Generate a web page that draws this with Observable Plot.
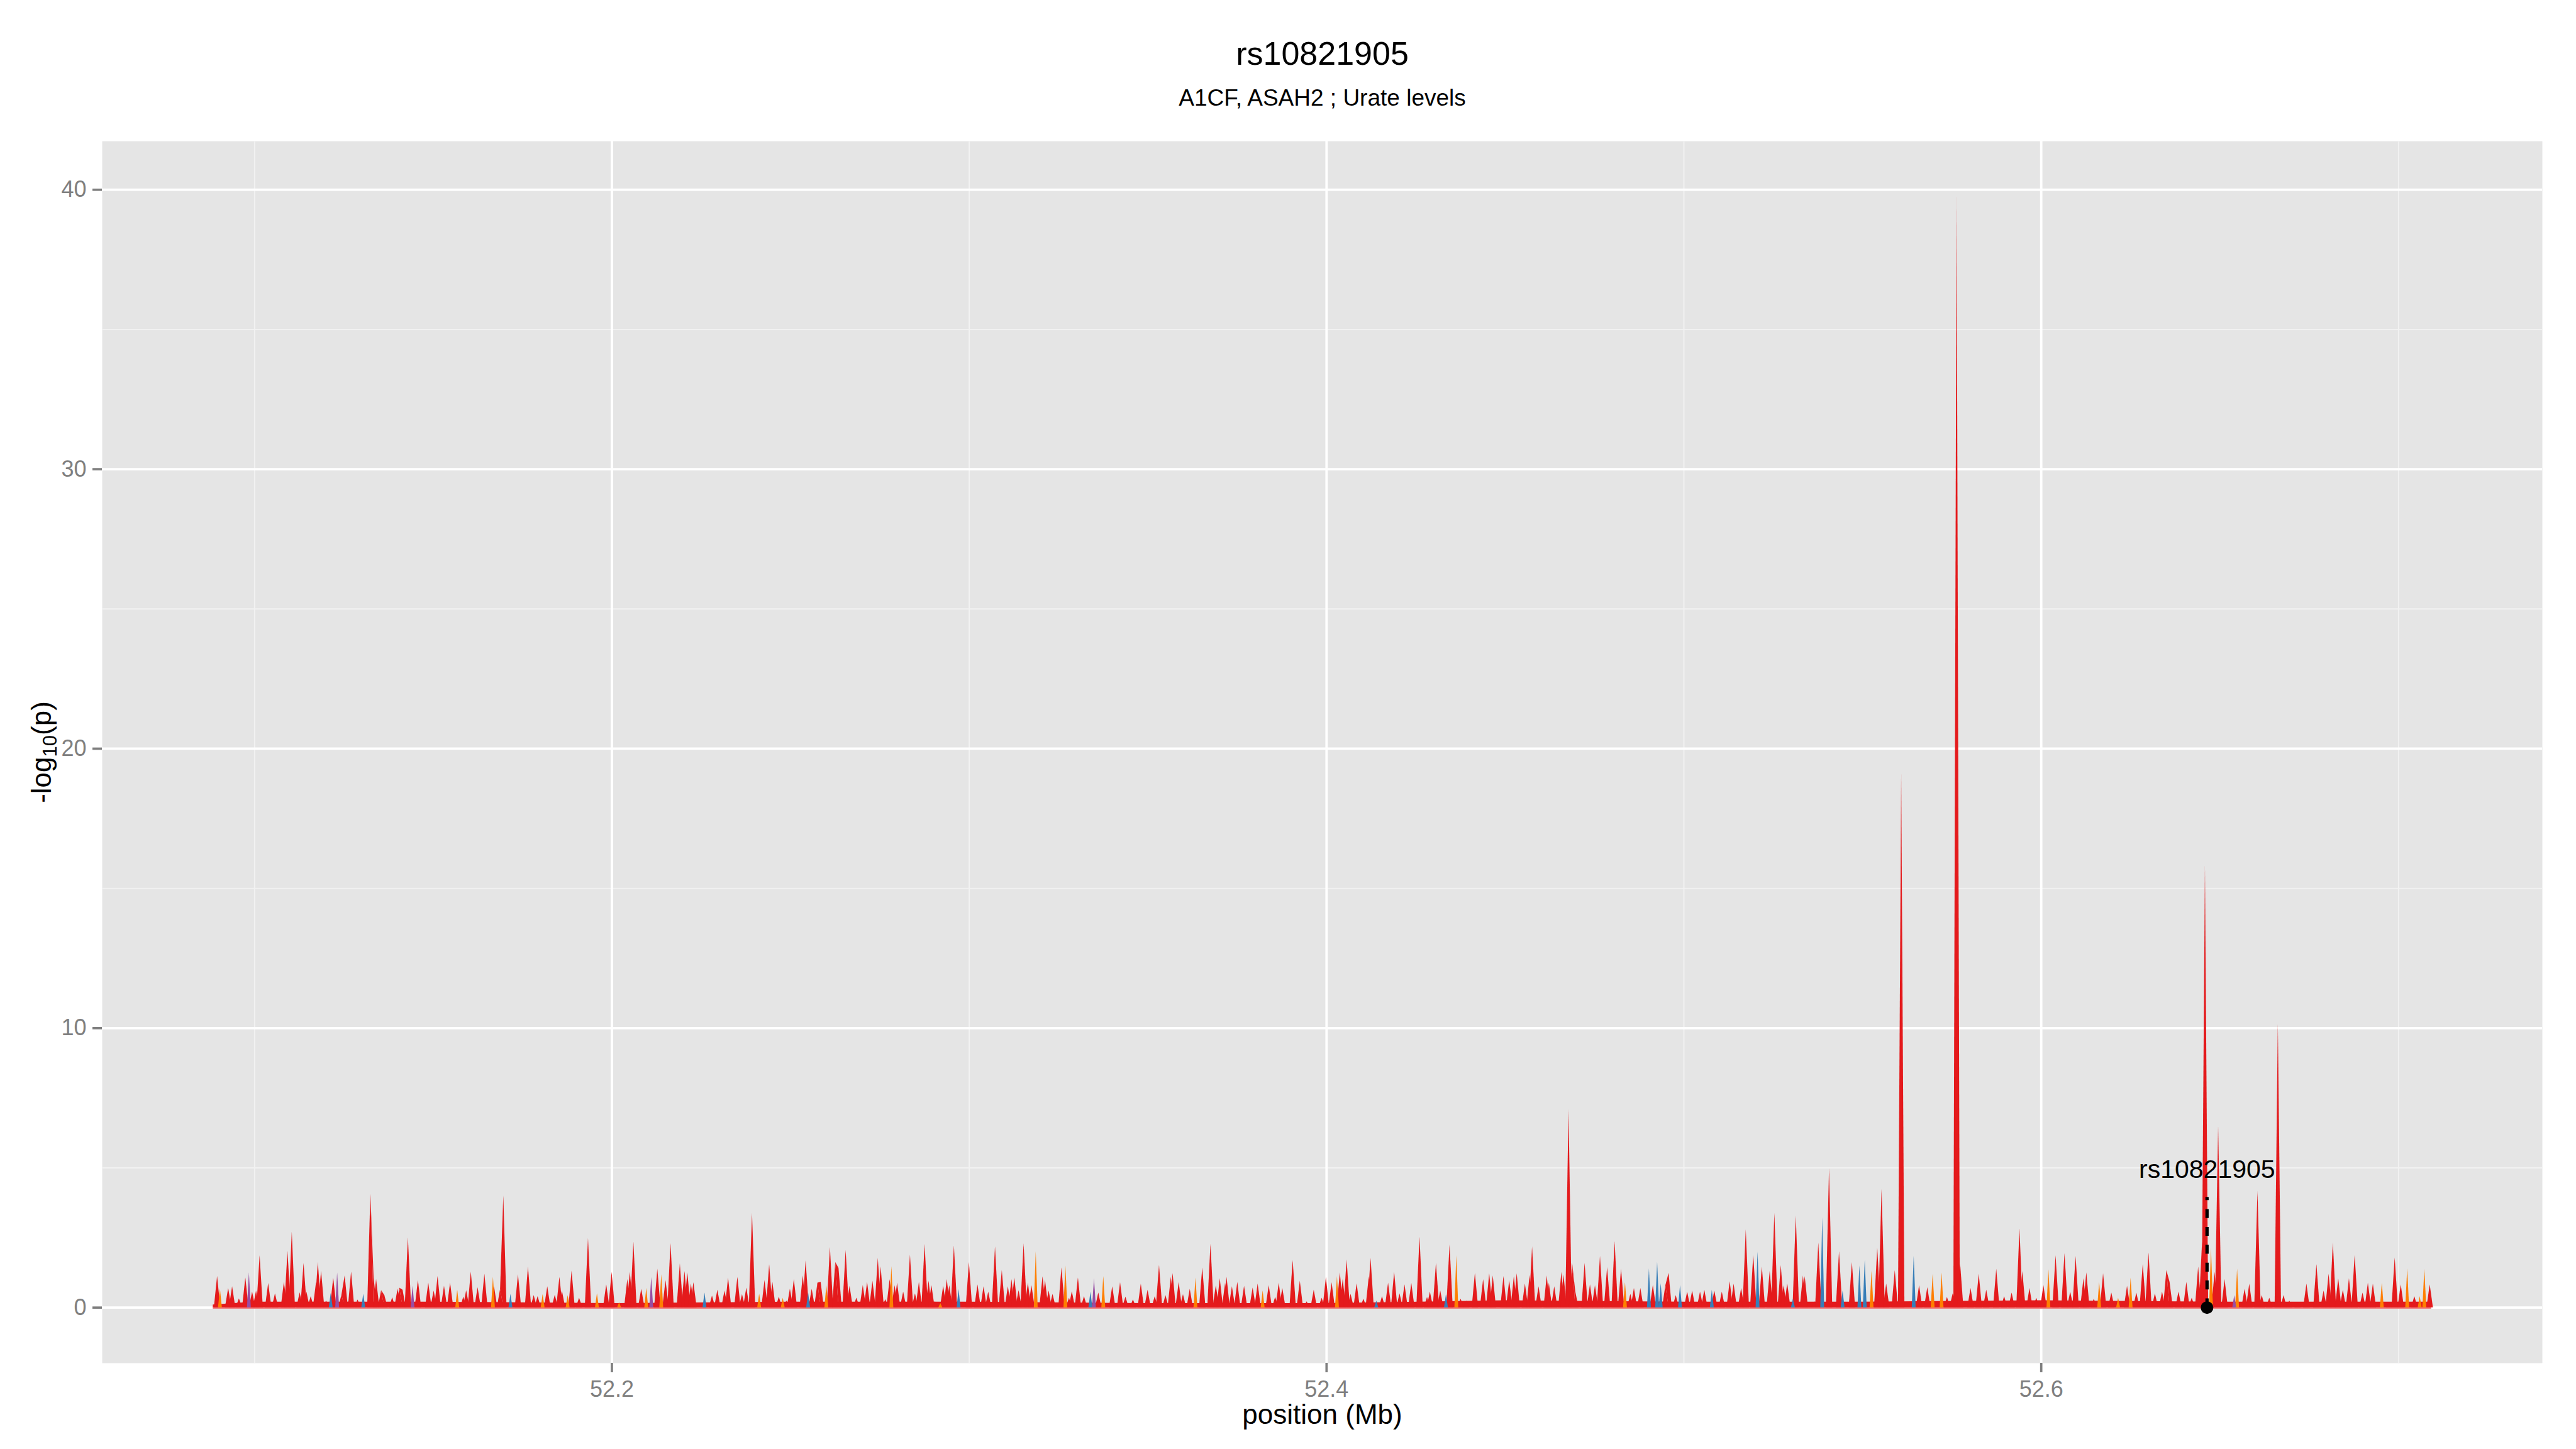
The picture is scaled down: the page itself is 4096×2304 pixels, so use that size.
<!DOCTYPE html>
<html><head><meta charset="utf-8">
<script src="https://cdn.jsdelivr.net/npm/d3@7"></script>
<script src="https://cdn.jsdelivr.net/npm/@observablehq/plot@0.6"></script>
<style>html,body{margin:0;padding:0;background:#fff;} svg{display:block;}</style>
</head><body>
<script>
// ---- text ----
const titleText = "rs10821905";
const subtitleText = "A1CF, ASAH2 ; Urate levels";
const xLabel = "position (Mb)";
// ---- ticks ----
const xTicks = [52.2, 52.4, 52.6];
const xMinorTicks = [52.1, 52.3, 52.5, 52.7];
const yTicks = [0, 10, 20, 30, 40];
const yMinorTicks = [5, 15, 25, 35];
// ---- highlighted SNP ----
const snp = {name: "rs10821905", pos: 52.6464, base: 0, top: 3.95, labelY: 4.93};

// ---- data: [position (Mb), -log10(p)] ----
const peaksRed = [
[52.0896,1.12],[52.0927,0.69],[52.0938,0.75],[52.0957,0.32],[52.0975,1.07],[52.0994,0.56],[52.1005,0.60],[52.1015,1.86],[52.1039,0.87],[52.1058,0.50],
[52.1083,0.91],[52.1093,2.02],[52.1105,2.71],[52.1127,0.54],[52.1138,1.59],[52.1146,0.56],[52.1158,0.40],[52.1173,0.91],[52.1178,1.62],[52.1187,1.31],
[52.1201,0.24],[52.1221,1.06],[52.1244,0.45],[52.1253,1.14],[52.1263,0.21],[52.1271,1.28],[52.1289,0.28],[52.1325,4.07],[52.1334,1.06],[52.1341,1.01],
[52.1355,0.61],[52.1364,0.44],[52.1386,0.36],[52.1401,0.67],[52.1406,0.70],[52.1415,0.63],[52.1430,2.51],[52.1458,0.98],[52.1487,0.88],[52.1502,0.60],
[52.1513,1.12],[52.1531,0.77],[52.1548,0.88],[52.1585,0.38],[52.1593,0.61],[52.1606,1.28],[52.1625,0.72],[52.1644,1.20],[52.1671,0.75],[52.1688,0.66],
[52.1697,4.00],[52.1738,1.18],[52.1766,1.46],[52.1782,0.44],[52.1793,0.40],[52.1820,0.75],[52.1841,0.45],[52.1854,1.09],[52.1861,0.60],[52.1888,1.31],
[52.1909,0.34],[52.1934,2.48],[52.1985,0.82],[52.2000,1.27],[52.2044,1.01],[52.2051,1.27],[52.2061,2.35],[52.2083,0.66],[52.2128,1.38],[52.2151,0.97],
[52.2165,2.30],[52.2191,1.57],[52.2204,1.30],[52.2212,1.25],[52.2222,0.85],[52.2229,0.90],[52.2281,0.42],[52.2296,0.63],[52.2316,0.60],[52.2326,1.06],
[52.2352,1.09],[52.2365,0.47],[52.2377,0.71],[52.2393,3.38],[52.2428,0.98],[52.2441,1.54],
[52.2450,0.91],[52.2468,0.38],[52.2489,0.24],[52.2499,0.67],[52.2510,1.01],[52.2535,1.14],[52.2543,1.68],[52.2560,0.66],[52.2576,0.88],[52.2585,0.91],
[52.2611,2.16],[52.2626,1.62],[52.2635,1.41],[52.2655,2.05],[52.2666,0.77],[52.2685,0.35],[52.2703,0.80],[52.2715,0.91],[52.2730,0.95],[52.2745,1.77],
[52.2753,1.46],[52.2766,0.29],[52.2778,1.01],[52.2792,0.79],[52.2799,0.88],[52.2816,0.56],[52.2835,1.89],[52.2849,0.50],[52.2860,0.91],[52.2876,2.27],
[52.2887,0.95],[52.2895,0.80],[52.2905,0.22],[52.2928,0.77],[52.2938,1.01],[52.2945,0.79],[52.2958,2.21],[52.3000,1.62],[52.3024,0.82],[52.3041,0.75],
[52.3054,0.56],[52.3073,2.18],[52.3092,1.33],[52.3109,0.75],[52.3119,1.01],[52.3127,1.07],[52.3139,0.61],[52.3153,2.29],[52.3165,0.88],[52.3175,0.79],
[52.3206,1.11],[52.3213,0.98],[52.3223,0.60],[52.3234,0.48],[52.3259,1.43],[52.3280,0.34],[52.3288,0.58],[52.3305,1.07],[52.3322,0.40],[52.3362,0.53],
[52.3401,0.75],[52.3423,0.90],[52.3438,0.38],[52.3459,0.28],[52.3481,0.85],[52.3500,0.63],[52.3520,0.40],[52.3532,1.52],[52.3550,0.44],[52.3565,1.09],
[52.3570,1.23],[52.3587,0.91],[52.3599,0.47],[52.3618,0.66],[52.3653,1.43],[52.3676,2.27],[52.3691,0.79],[52.3702,1.04],[52.3717,0.88],[52.3721,1.09],
[52.3736,0.75],[52.3751,0.91],[52.3770,0.77],[52.3794,0.71],[52.3808,0.85],[52.3839,0.79],[52.3857,0.37],[52.3867,0.88],[52.3877,0.69],[52.3906,1.70],
[52.3926,0.95],[52.3945,0.21],[52.3965,0.63],[52.3987,0.34],[52.3999,1.09],
[52.4015,0.90],[52.4038,1.25],[52.4046,1.01],[52.4057,1.71],[52.4068,0.48],[52.4085,0.86],[52.4104,0.31],[52.4119,1.11],[52.4124,1.77],[52.4156,0.40],
[52.4173,0.88],[52.4190,1.27],[52.4205,0.50],[52.4219,0.82],[52.4238,0.87],[52.4261,2.53],[52.4282,0.37],[52.4290,0.56],[52.4307,1.59],[52.4319,0.60],
[52.4345,2.25],[52.4376,0.31],[52.4392,0.24],[52.4416,1.23],[52.4439,1.01],[52.4456,1.22],[52.4466,1.14],[52.4496,1.12],[52.4512,0.97],[52.4525,1.12],
[52.4533,1.22],[52.4556,0.85],[52.4569,1.16],[52.4576,2.18],[52.4594,0.75],[52.4617,1.14],[52.4623,0.88],[52.4638,0.75],[52.4658,1.27],[52.4664,1.17],
[52.4678,7.08],[52.4688,1.60],[52.4697,0.56],[52.4723,1.59],[52.4738,0.82],[52.4752,0.79],[52.4766,1.84],[52.4786,1.44],[52.4807,2.37],[52.4825,1.38],
[52.4851,0.48],[52.4861,0.69],[52.4879,0.69],[52.4914,0.80],[52.4949,0.79],[52.4958,1.23],[52.4978,0.44],[52.5010,0.56],[52.5024,0.60],[52.5046,0.56],
[52.5058,0.63],[52.5086,0.60],[52.5107,0.56],[52.5129,0.93],[52.5140,0.85],[52.5161,0.69],[52.5174,2.79],[52.5195,1.87],[52.5219,1.46],[52.5241,1.30],
[52.5254,3.38],[52.5272,1.51],[52.5280,0.79],[52.5290,0.86],[52.5314,3.29],[52.5334,1.14],[52.5339,1.12],[52.5351,0.18],[52.5367,0.21],[52.5377,2.32],
[52.5407,4.98],[52.5435,2.00],[52.5471,1.62],[52.5542,2.13],[52.5554,4.24],
[52.5567,0.85],[52.5591,1.33],[52.5609,19.1],[52.5659,0.79],[52.5682,0.72],[52.5737,0.37],[52.5753,0.50],[52.5764,39.75],[52.5774,1.55],[52.5803,0.69],
[52.5826,1.20],[52.5847,0.63],[52.5875,1.38],[52.5897,0.40],[52.5918,0.53],[52.5940,2.82],[52.5948,1.30],[52.5968,0.69],[52.5987,0.34],[52.6007,0.79],
[52.6041,1.86],[52.6066,1.94],[52.6082,0.56],[52.6097,1.84],[52.6119,1.04],[52.6127,1.25],[52.6148,0.31],[52.6174,1.22],[52.6197,0.53],[52.6241,0.77],
[52.6267,0.53],[52.6285,1.55],[52.6301,1.97],[52.6319,0.50],[52.6339,0.56],[52.6351,1.33],[52.6360,0.91],[52.6385,0.56],[52.6407,0.91],[52.6422,0.34],
[52.6440,1.46],[52.6451,2.35],[52.6459,15.8],[52.6486,1.27],[52.6496,6.49],[52.6514,1.01],[52.6570,0.66],[52.6583,0.85],[52.6606,4.16],[52.6618,0.44],
[52.6639,0.34],[52.6663,10.15],[52.6679,0.44],[52.6695,0.24],[52.6718,0.15],[52.6743,0.85],[52.6771,1.55],[52.6791,0.60],[52.6805,1.20],[52.6817,2.32],
[52.6832,1.04],[52.6845,0.63],[52.6862,1.04],[52.6878,1.87],[52.6900,0.53],[52.6915,0.88],[52.6929,0.85],[52.6974,0.15],[52.6990,1.78],[52.7007,0.82],
[52.7045,0.40],[52.7088,0.82]
];
const peaksOrange = [
[52.0904,0.66],[52.1568,0.63],[52.1668,1.09],[52.1807,0.47],[52.1877,0.44],[52.1959,0.50],[52.2021,0.18],[52.2097,0.69],[52.2139,1.18],[52.2413,0.49],
[52.2479,0.34],[52.2601,0.79],[52.2783,1.47],[52.2920,0.15],[52.3187,2.00],[52.3270,1.49],[52.3376,1.12],[52.3634,1.06],[52.3822,0.60],[52.4030,1.11],
[52.4364,1.86],[52.4836,0.90],[52.5526,1.31],[52.5697,1.20],[52.5722,1.25],[52.6021,1.36],[52.6163,0.91],[52.6216,0.34],[52.6251,1.06],[52.6476,2.13],
[52.6549,1.38],[52.6954,0.88],[52.7025,1.39],[52.7060,0.40],[52.7073,1.38]
];
const peaksBlue = [
[52.1214,0.51],[52.1305,0.48],[52.1717,0.48],[52.2260,0.53],[52.2550,0.53],[52.2971,0.65],[52.3340,0.56],[52.4140,0.24],[52.4335,0.47],[52.4903,1.39],
[52.4926,1.63],[52.4936,0.86],[52.4990,0.79],[52.5079,0.63],[52.5207,2.00],[52.5306,0.31],[52.5388,3.23],[52.5445,0.60],[52.5492,1.50],[52.5507,1.71],
[52.5644,1.84]
];
const peaksPurple = [
[52.0985,1.25],[52.1232,1.25],[52.1443,0.77],[52.2111,1.09],[52.3350,1.04],[52.6541,0.44]
];
// low background level under the spikes
const floorLevel = [
[52.0884,0.10],[52.1000,0.20],[52.1500,0.20],[52.2000,0.15],[52.2500,0.20],[52.3000,0.20],[52.3500,0.15],
[52.4000,0.15],[52.4500,0.25],[52.5000,0.20],[52.5500,0.20],[52.6000,0.25],[52.6500,0.20],[52.7092,0.20]
];

// ---- build ----
const COL = {red: "#E41A1C", orange: "#FF7F00", blue: "#377EB8", purple: "#984EA3"};
const HALF = 0.0009;           // half-width of a spike's base, Mb
function spikes(peaks, w) {
  const out = [];
  peaks.forEach(([p, v], i) => {
    out.push({x: p - w, y: 0, z: i}, {x: p, y: v, z: i}, {x: p + w, y: 0, z: i});
  });
  return out;
}
const allPeaks = [...peaksRed, ...peaksOrange, ...peaksBlue, ...peaksPurple, ...floorLevel];
const xmin = d3.min(allPeaks, d => d[0]), xmax = d3.max(allPeaks, d => d[0]);
const ymax = d3.max(allPeaks, d => d[1]);
const xpad = (xmax - xmin) * 0.05, ypad = ymax * 0.05;
const baseRow = [{x1: xmin, x2: xmax, y: 0}];
const floorRows = floorLevel.map(([x, y]) => ({x, y}));

const W = 4096, H = 2304;
const mL = 162, mR = 54, mT = 224, mB = 137;

const chart = Plot.plot({
  width: W, height: H,
  marginLeft: mL, marginRight: mR, marginTop: mT, marginBottom: mB,
  style: {background: "white", fontFamily: "'Liberation Sans', Arial, Helvetica, sans-serif", color: "black"},
  x: {domain: [xmin - xpad, xmax + xpad]},
  y: {domain: [-ypad, ymax + ypad]},
  marks: [
    Plot.frame({fill: "#E5E5E5", stroke: "none"}),
    Plot.gridX(xMinorTicks, {stroke: "#F2F2F2", strokeOpacity: 1, strokeWidth: 1.9}),
    Plot.gridY(yMinorTicks, {stroke: "#F2F2F2", strokeOpacity: 1, strokeWidth: 1.9}),
    Plot.gridX(xTicks, {stroke: "#FFFFFF", strokeOpacity: 1, strokeWidth: 3.8}),
    Plot.gridY(yTicks, {stroke: "#FFFFFF", strokeOpacity: 1, strokeWidth: 3.8}),
    Plot.axisX(xTicks, {tickSize: 15, tickPadding: 13, fontSize: 36, color: "#7F7F7F", strokeWidth: 3.7, tickFormat: d => d.toFixed(1), label: null}),
    Plot.axisY(yTicks, {tickSize: 15, tickPadding: 10, fontSize: 36, color: "#7F7F7F", strokeWidth: 3.7, tickFormat: d => String(d), label: null}),
    Plot.ruleY(baseRow, {x1: "x1", x2: "x2", y: "y", stroke: COL.red, strokeOpacity: 0.55, strokeWidth: 3.5}),
    Plot.areaY(floorRows, {x: "x", y: "y", fill: COL.red}),
    Plot.areaY(spikes(peaksRed, HALF), {x: "x", y: "y", z: "z", fill: COL.red}),
    Plot.areaY(spikes(peaksOrange, HALF * 0.6), {x: "x", y: "y", z: "z", fill: COL.orange}),
    Plot.areaY(spikes(peaksBlue, HALF * 0.6), {x: "x", y: "y", z: "z", fill: COL.blue}),
    Plot.areaY(spikes(peaksPurple, HALF * 0.6), {x: "x", y: "y", z: "z", fill: COL.purple}),
    Plot.ruleX([snp], {x: "pos", y1: "base", y2: "top", stroke: "black", strokeWidth: 5.2, strokeDasharray: "14.2,14.2"}),
    Plot.dot([snp], {x: "pos", y: "base", r: 10, fill: "black", stroke: "none"}),
    Plot.text([snp], {x: "pos", y: "labelY", text: "name", fontSize: 41, fill: "black", lineAnchor: "middle"}),
    Plot.text([titleText], {text: d => d, frameAnchor: "top", textAnchor: "middle", lineAnchor: "bottom", dy: 102 - mT, fontSize: 52, fill: "black"}),
    Plot.text([subtitleText], {text: d => d, frameAnchor: "top", textAnchor: "middle", lineAnchor: "bottom", dy: 167 - mT, fontSize: 37, fill: "black"}),
    Plot.text([xLabel], {text: d => d, frameAnchor: "bottom", textAnchor: "middle", lineAnchor: "bottom", dy: 2263 - (H - mB), fontSize: 44, fill: "black"}),
    Plot.text(["-log10(p)"], {text: d => d, frameAnchor: "left", textAnchor: "middle", rotate: -90, lineAnchor: "middle", dx: 66 - mL, fontSize: 44, fill: "black", className: "ylab"})
  ]
});
document.body.appendChild(chart);

// y-axis title with a real subscript
const yl = d3.select(chart).select("g.ylab text");
yl.text(null);
yl.append("tspan").text("-log");
yl.append("tspan").attr("font-size", 31).attr("dy", 9).text("10");
yl.append("tspan").attr("dy", -9).text("(p)");
</script>
</body></html>
